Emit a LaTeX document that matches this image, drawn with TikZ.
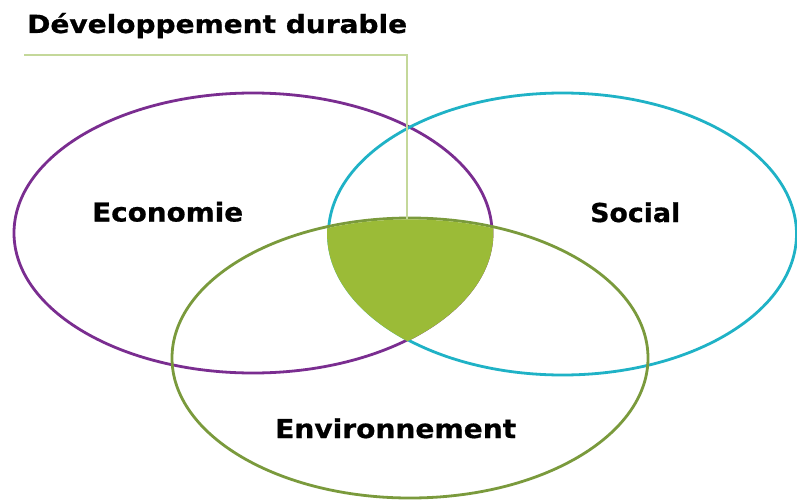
\documentclass[tikz,border=0pt]{standalone}
\usepackage{fontspec}
\setmainfont{DejaVu Sans}
\newfontfamily\heavyfont[FakeBold=0.7]{DejaVu Sans Bold}
\definecolor{ecoPurple}{HTML}{7A2D90}
\definecolor{socCyan}{HTML}{1FB2C6}
\definecolor{envGreen}{HTML}{7A9A3C}
\definecolor{coreGreen}{HTML}{9BBB37}
\definecolor{leaderGreen}{HTML}{C4D89A}
\begin{document}
\begin{tikzpicture}[x=1pt,y=-1pt,
  ring/.style={line width=2.8pt},
  label/.style={anchor=base west,inner sep=0pt,font=\heavyfont\fontsize{26}{30}\selectfont},
  leader/.style={draw=leaderGreen,line width=2pt}]
  \useasboundingbox[fill=white] (0,0) rectangle (797,500);

  % the three overlapping ellipses
  \coordinate (eco) at (253,233);
  \coordinate (soc) at (562.5,234);
  \coordinate (env) at (410,358);
  \draw[ring,draw=ecoPurple] (eco) ellipse [x radius=239,y radius=140];
  \draw[ring,draw=socCyan]   (soc) ellipse [x radius=234,y radius=141];
  \draw[ring,draw=envGreen]  (env) ellipse [x radius=238,y radius=140];

  % common part of the three ellipses
  \begin{scope}
    \clip (eco) ellipse [x radius=240.4,y radius=141.4];
    \clip (soc) ellipse [x radius=235.4,y radius=142.4];
    \fill[coreGreen] (env) ellipse [x radius=236.6,y radius=138.6];
  \end{scope}

  % title and its leader line
  \node[label,font=\heavyfont\fontsize{25}{30}\selectfont] (title) at (27,33)
    {\scalebox{1.12}[1]{Développement durable}};
  \coordinate (leadStart) at (24,55);
  \coordinate (leadCorner) at (407,55);
  \coordinate (leadEnd) at (407,219);
  \draw[leader] (leadStart) -- (leadCorner) -- (leadEnd);

  % labels of the three spheres
  \node[label] (ecoLabel) at (92,221.5) {\scalebox{1.07}[1]{Economie}};
  \node[label] (socLabel) at (590,222) {\scalebox{1.03}[1]{Social}};
  \node[label] (envLabel) at (275,438) {\scalebox{1.08}[1]{Environnement}};
\end{tikzpicture}
\end{document}
